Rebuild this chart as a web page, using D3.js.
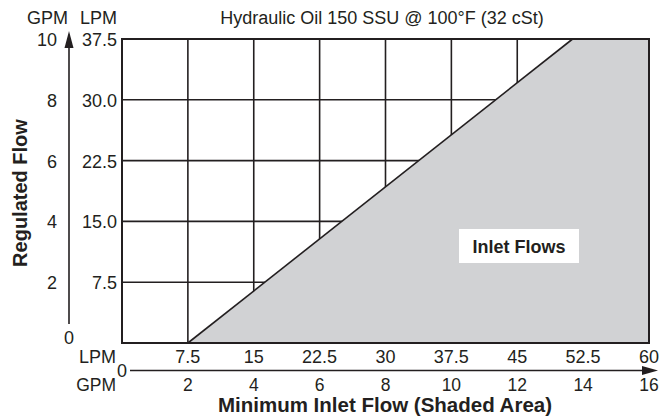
<!DOCTYPE html>
<html><head><meta charset="utf-8">
<script src="https://cdn.jsdelivr.net/npm/d3@7"></script>
<style>body{margin:0;background:#fff}svg{display:block}text{font-family:"Liberation Sans",Arial,sans-serif;fill:#231f20}</style>
</head><body><svg id="c" width="660" height="416"></svg>
<script>
const lpmTicks = [7.5, 15, 22.5, 30, 37.5, 45, 52.5, 60];
const gpmTicksX = [2, 4, 6, 8, 10, 12, 14, 16];
const lpmTicksY = [7.5, 15.0, 22.5, 30.0, 37.5];
const gpmTicksY = [2, 4, 6, 8, 10];
const boundaryInletLPM = [7.5, 51.3];
const boundaryRegulatedLPM = [0, 37.5];
const title = "Hydraulic Oil 150 SSU @ 100°F (32 cSt)";

const svg = d3.select("#c");
const L = 122, R = 649, T = 39, B = 343;
const x = d3.scaleLinear().domain([0, 60]).range([L, R]);
const y = d3.scaleLinear().domain([0, 37.5]).range([B, T]);
const ink = "#231f20";

const poly = [[boundaryInletLPM[0], boundaryRegulatedLPM[0]], [boundaryInletLPM[1], boundaryRegulatedLPM[1]], [60, 37.5], [60, 0]];
const g = svg.append("g");
lpmTicks.slice(0, -1).forEach(v => g.append("line").attr("x1", x(v)).attr("x2", x(v)).attr("y1", T).attr("y2", B).attr("stroke", ink).attr("stroke-width", 1.6));
lpmTicksY.slice(0, -1).forEach(v => g.append("line").attr("x1", L).attr("x2", R).attr("y1", y(v)).attr("y2", y(v)).attr("stroke", ink).attr("stroke-width", 1.6));
svg.append("path").attr("d", d3.line().x(d => x(d[0])).y(d => y(d[1]))(poly) + "Z").attr("fill", "#d1d2d4").attr("stroke", "none");
svg.append("line").attr("x1", x(boundaryInletLPM[0])).attr("y1", y(boundaryRegulatedLPM[0])).attr("x2", x(boundaryInletLPM[1])).attr("y2", y(boundaryRegulatedLPM[1])).attr("stroke", ink).attr("stroke-width", 1.6);
svg.append("rect").attr("x", L).attr("y", T).attr("width", R - L).attr("height", B - T).attr("fill", "none").attr("stroke", ink).attr("stroke-width", 2);

svg.append("rect").attr("x", 459).attr("y", 229).attr("width", 120).attr("height", 34).attr("fill", "#fff");
svg.append("text").attr("x", 519).attr("y", 253).attr("text-anchor", "middle").attr("font-size", 18).attr("font-weight", "bold").text("Inlet Flows");

const fs = 18;
const yg = d3.scaleLinear().domain([0, 10]).range([B, T]);
lpmTicksY.forEach(v => svg.append("text").attr("x", 117).attr("y", y(v) + 7).attr("text-anchor", "end").attr("font-size", fs).text(d3.format(".1f")(v)));
gpmTicksY.forEach(v => svg.append("text").attr("x", 57).attr("y", yg(v) + 7).attr("text-anchor", "end").attr("font-size", fs).text(v));
svg.append("text").attr("x", 69).attr("y", 344).attr("text-anchor", "middle").attr("font-size", fs).text("0");
svg.append("text").attr("x", 68).attr("y", 24).attr("text-anchor", "end").attr("font-size", fs).text("GPM");
svg.append("text").attr("x", 117).attr("y", 24).attr("text-anchor", "end").attr("font-size", fs).text("LPM");
svg.append("line").attr("x1", 69).attr("x2", 69).attr("y1", 324).attr("y2", 44).attr("stroke", ink).attr("stroke-width", 1.6);
svg.append("path").attr("d", "M69,31 L64.5,48 L73.5,48 Z").attr("fill", ink);
svg.append("text").attr("transform", "translate(27,193) rotate(-90)").attr("text-anchor", "middle").attr("font-size", 20).attr("font-weight", "bold").text("Regulated Flow");

const xg = d3.scaleLinear().domain([0, 16]).range([L, R]);
lpmTicks.forEach(v => svg.append("text").attr("x", x(v)).attr("y", 363).attr("text-anchor", "middle").attr("font-size", fs).text(v));
gpmTicksX.forEach(v => svg.append("text").attr("x", xg(v)).attr("y", 391).attr("text-anchor", "middle").attr("font-size", 17.5).text(v));
svg.append("text").attr("x", 116).attr("y", 363).attr("text-anchor", "end").attr("font-size", fs).text("LPM");
svg.append("text").attr("x", 116).attr("y", 391).attr("text-anchor", "end").attr("font-size", 17.5).text("GPM");
svg.append("text").attr("x", 122).attr("y", 377).attr("text-anchor", "middle").attr("font-size", fs).text("0");
svg.append("line").attr("x1", 130).attr("x2", 645).attr("y1", 370.5).attr("y2", 370.5).attr("stroke", ink).attr("stroke-width", 1.6);
svg.append("path").attr("d", "M658,370.5 L642,366 L642,375 Z").attr("fill", ink);
svg.append("text").attr("x", 385).attr("y", 412).attr("text-anchor", "middle").attr("font-size", 20.5).attr("font-weight", "bold").text("Minimum Inlet Flow (Shaded Area)");

svg.append("text").attr("x", 382).attr("y", 24).attr("text-anchor", "middle").attr("font-size", 18).text(title);
</script></body></html>
